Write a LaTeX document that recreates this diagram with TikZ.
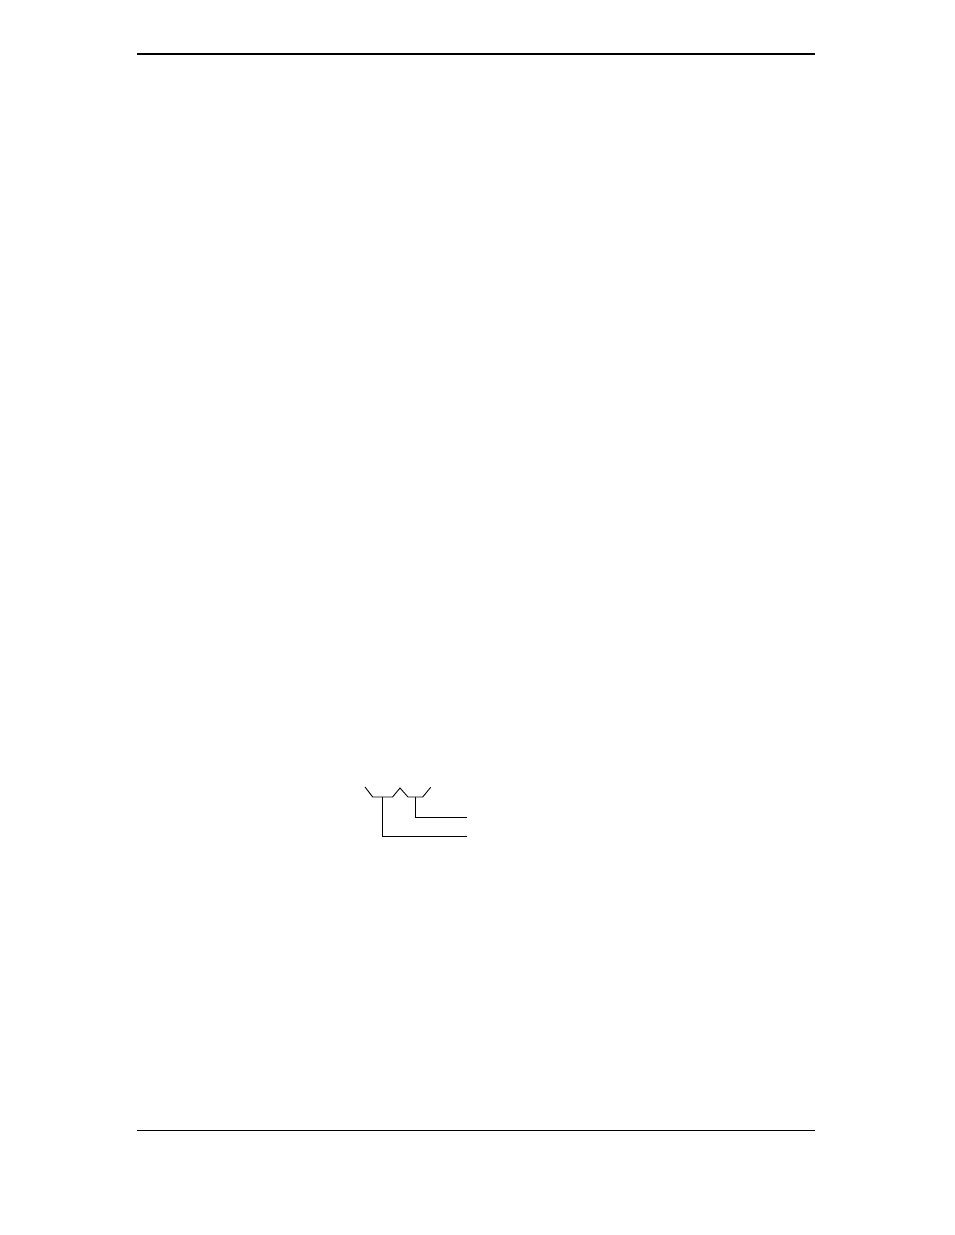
\documentclass[tikz,border=0pt]{standalone}
\begin{document}
\begin{tikzpicture}[x=1pt,y=-1pt,
  rulethick/.style={line width=2pt},
  rulethin/.style={line width=1pt},
  bracket/.style={line width=0.9pt, line join=miter}]
\useasboundingbox[fill=white] (0,0) rectangle (954,1235);
% page rules
\coordinate (tl) at (137,54);
\coordinate (tr) at (815,54);
\coordinate (bl) at (137,1130);
\coordinate (br) at (815,1130);
\draw[rulethick] (tl) -- (tr);
\draw[rulethin] (bl) -- (br);
% bracket figure
\coordinate (a0) at (365,787);
\coordinate (a1) at (372.7,797);
\coordinate (a2) at (392.5,797);
\coordinate (pk) at (400,788);
\coordinate (a3) at (408,797);
\coordinate (a4) at (422.7,797);
\coordinate (a5) at (430.7,787.3);
\draw[bracket] (a0) -- (a1) -- (a2) -- (pk) -- (a3) -- (a4) -- (a5);
\coordinate (v1t) at (382.7,797);
\coordinate (v1b) at (382.7,836.7);
\coordinate (e1) at (467,836.7);
\draw[bracket] (v1t) -- (v1b) -- (e1);
\coordinate (v2t) at (415.7,797);
\coordinate (v2b) at (415.7,817.3);
\coordinate (e2) at (467,817.3);
\draw[bracket] (v2t) -- (v2b) -- (e2);
\end{tikzpicture}
\end{document}
